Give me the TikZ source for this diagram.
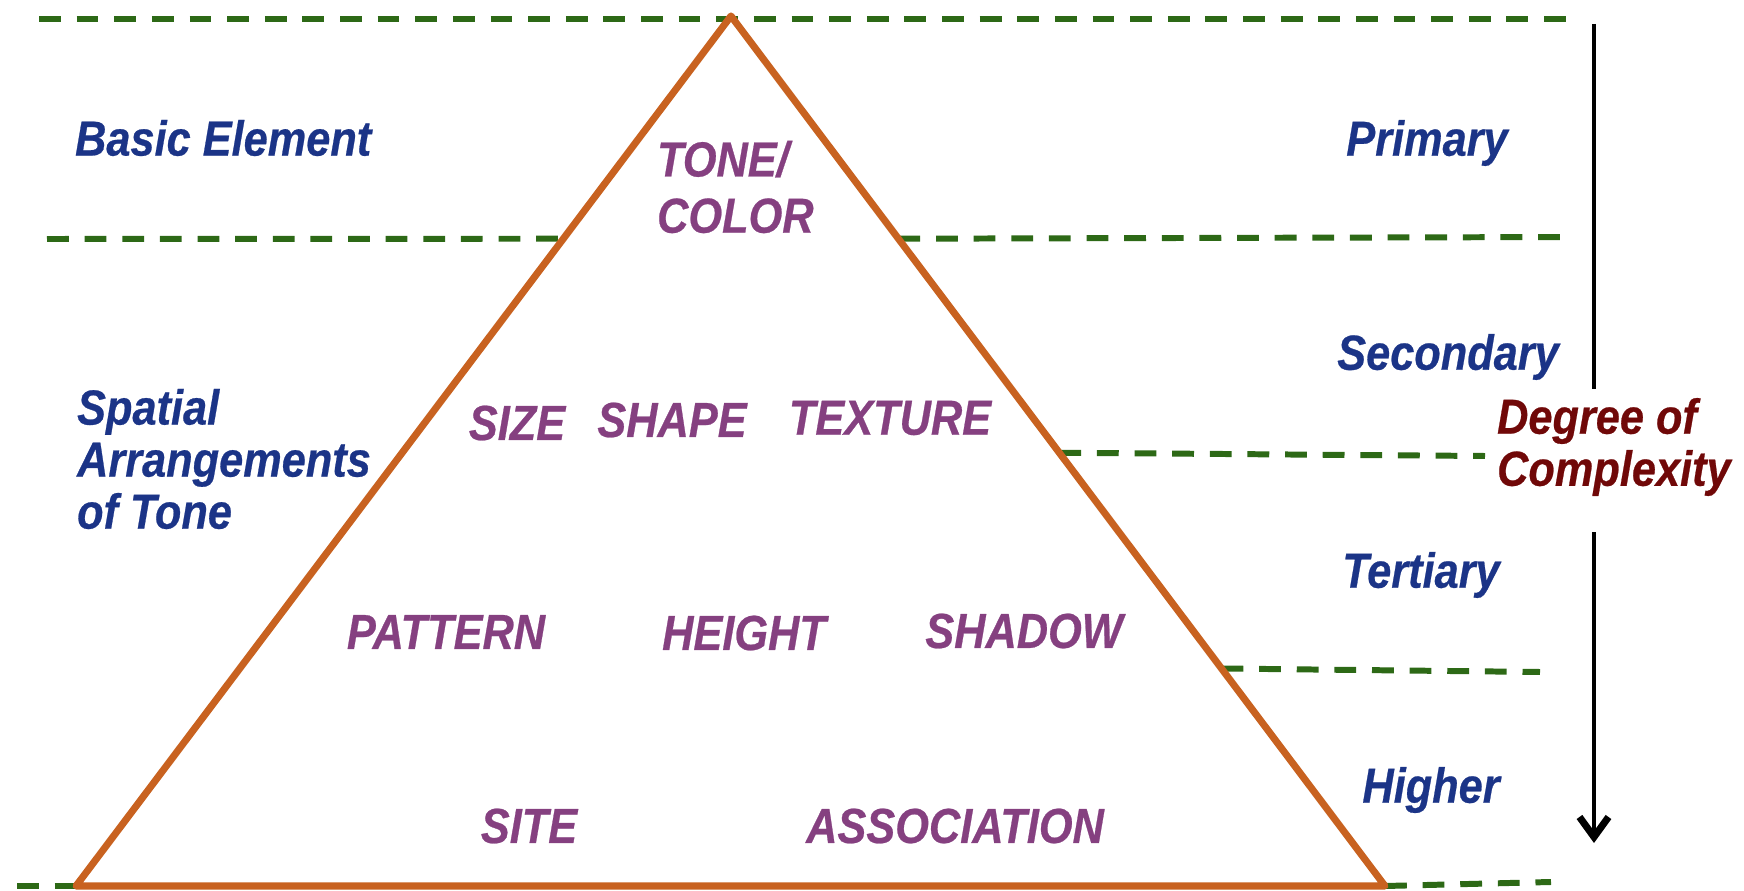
\documentclass[tikz,border=0pt]{standalone}
\usepackage{fontspec}
\setmainfont{Liberation Sans}[FakeStretch=0.88, BoldItalicFeatures={FakeBold=0.5}]
\usetikzlibrary{arrows.meta,calc}

\definecolor{edgeorange}{RGB}{200,98,32}
\definecolor{levelgreen}{RGB}{45,105,22}
\definecolor{tierblue}{RGB}{27,52,135}
\definecolor{cuepurple}{RGB}{133,64,128}
\definecolor{degreered}{RGB}{112,8,8}

\tikzset{
  level/.style={levelgreen, line width=1.7pt, dash pattern=on 6.2pt off 4.5pt},
  cue/.style={cuepurple, font=\fontsize{14}{16}\selectfont\bfseries\itshape},
  tier/.style={tierblue, font=\fontsize{14}{14.8}\selectfont\bfseries\itshape},
}

\begin{document}
\begin{tikzpicture}[x=0.01cm, y=0.01cm, >=Stealth, thick]
  \useasboundingbox (0,0) rectangle (1744,890);

  % Corners of the pyramid
  \coordinate (apex) at (731,874);
  \coordinate (bl) at (76,4);
  \coordinate (br) at (1385,4);

  % Green dashed level lines
  \draw[level] (39,871) -- (1566,871);
  \draw[level] (47,651) -- ($(apex)!0.256!(bl)$);
  \draw[level] ($(apex)!0.256!(br)$) -- (1574,653);
  \draw[level] ($(apex)!0.502!(br)$) -- (1485,434);
  \draw[level] ($(apex)!0.75!(br)$) -- (1540,218);
  \draw[level] (17,4) -- (bl);
  \draw[level] (br) -- (1551,8);

  % Orange pyramid
  \draw[edgeorange, line width=2pt, line join=round] (apex) -- (br) -- (bl) -- cycle;

  % Degree of complexity arrow
  \coordinate (arrtop) at (1594,866);
  \coordinate (gapup) at (1594,501);
  \coordinate (gapdown) at (1594,358);
  \coordinate (arrbot) at (1594,47);
  \draw[line width=1.3pt] (arrtop) -- (gapup);
  \draw[line width=1.3pt, -{Straight Barb[length=2mm, width=2.9mm, line width=2pt]}] (gapdown) -- (arrbot);
  \node[degreered, font=\fontsize{14}{14.8}\selectfont\bfseries\itshape, align=left, anchor=west]
    (degree) at (1484,443) {Degree of\\Complexity};

  % Left and right tier labels
  \node[tier, anchor=west] (basic) at (62,752) {Basic Element};
  \node[tier, anchor=west, align=left] (spatial) at (64,431) {Spatial\\Arrangements\\of Tone};
  \foreach \name/\x/\y/\txt in {primary/1427/747/Primary, secondary/1448/533/Secondary,
      tertiary/1421/315/Tertiary, higher/1431/100/Higher}
    \node[tier] (\name) at (\x,\y) {\txt};

  % Interpretation cues inside the pyramid
  \node[cue, anchor=west, align=left] (tone) at (644,703) {TONE/\\COLOR};
  \foreach \name/\x/\y/\txt in {size/517/467/SIZE, shape/672/470/SHAPE, texture/890/472/TEXTURE,
      pattern/446/258/PATTERN, height/744/257/HEIGHT, shadow/1024/259/SHADOW,
      site/529/64/SITE, association/955/64/ASSOCIATION}
    \node[cue] (\name) at (\x,\y) {\txt};

\end{tikzpicture}
\end{document}
